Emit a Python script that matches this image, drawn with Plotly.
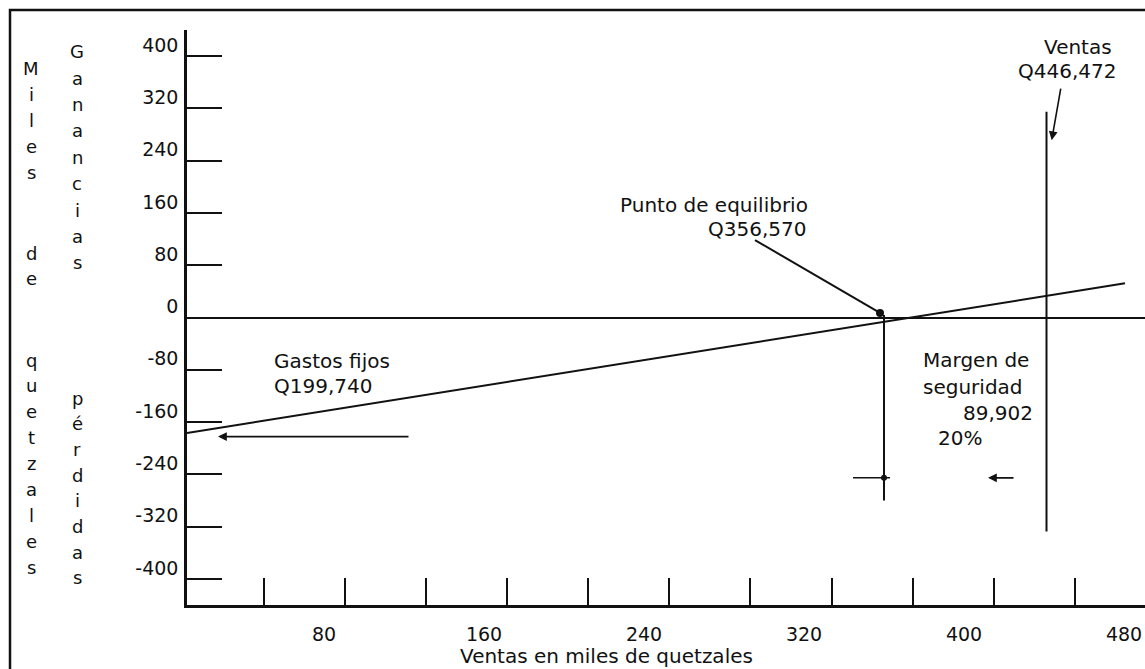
import plotly.graph_objects as go

# ---------------- data ----------------
x_range = [11.5, 490.5]
y_range = [-440, 440]
y_tick_vals = [400, 320, 240, 160, 80, 0, -80, -160, -240, -320, -400]
y_tick_text = ["400", "320", "240", "160", "80", "0", "-80", "-160", "-240", "-320", "-400"]
x_label_vals = [80, 160, 240, 320, 400, 480]
x_label_text = ["80", "160", "240", "320", "400", "480"]
x_tick_marks = [50, 90.5, 131, 171.5, 212, 252.5, 293, 334, 374.5, 415, 455.5]

profit_x = [11.5, 480.5]
profit_y = [-176.6, 52.3]

breakeven_x = [360, 360]
breakeven_y = [4, -280]
ventas_x = [441.25, 441.25]
ventas_y = [314.7, -327.5]

dot_x = [358]
dot_y = [7]
leader_x = [295.5, 358]
leader_y = [118.5, 7]

margin_bar_x = [344.5, 363]
margin_bar_y = [-245.4, -245.4]
margin_mark_x = [360]
margin_mark_y = [-245.4]

# arrows: (tail_x, tail_y, head_x, head_y)
arrows = [
    (123, -182.3, 27, -182.3),      # gastos fijos
    (425.5, -245.4, 412, -245.4),   # margen de seguridad
    (448.5, 352.5, 443.85, 271.4),  # ventas
]

# text labels: (text, x, y, xanchor)
labels = [
    ("Gastos fijos", 54, -66, "left"),
    ("Q199,740", 54, -104.7, "left"),
    ("Punto de equilibrio", 323, 172, "right"),
    ("Q356,570", 322, 135.3, "right"),
    ("Ventas", 475, 414, "right"),
    ("Q446,472", 477, 377.4, "right"),
    ("Margen de", 378.5, -65, "left"),
    ("seguridad", 378.5, -105.8, "left"),
    ("89,902", 435.5, -145.6, "right"),
    ("20%", 385.8, -184.3, "left"),
]

x_title = "Ventas en miles de quetzales"
left_words = [("Miles", 68, 26.2), ("de", 253, 25), ("quetzales", 360, 25.9)]
right_words = [("Ganancias", 51.7, 26.4), ("pérdidas", 398, 25.7)]

# ---------------- layout geometry (pixels) ----------------
W, H = 1145, 669
ML, MR, MT, MB = 187, 0, 30, 64
PW, PH = W - ML - MR, H - MT - MB


def px_x(px):
    return (px - ML) / PW


def px_y(py):
    return (H - MB - py) / PH


FONT = "DejaVu Sans"
INK = "#111111"

fig = go.Figure()

fig.add_trace(go.Scatter(x=profit_x, y=profit_y, mode="lines",
                         line=dict(color=INK, width=2), hoverinfo="skip"))
fig.add_trace(go.Scatter(x=breakeven_x, y=breakeven_y, mode="lines",
                         line=dict(color=INK, width=2), hoverinfo="skip"))
fig.add_trace(go.Scatter(x=ventas_x, y=ventas_y, mode="lines",
                         line=dict(color=INK, width=2), hoverinfo="skip"))
fig.add_trace(go.Scatter(x=leader_x, y=leader_y, mode="lines",
                         line=dict(color=INK, width=2), hoverinfo="skip"))
fig.add_trace(go.Scatter(x=dot_x, y=dot_y, mode="markers",
                         marker=dict(color=INK, size=8), hoverinfo="skip"))
fig.add_trace(go.Scatter(x=margin_bar_x, y=margin_bar_y, mode="lines",
                         line=dict(color=INK, width=1.5), hoverinfo="skip"))
fig.add_trace(go.Scatter(x=margin_mark_x, y=margin_mark_y, mode="markers",
                         marker=dict(color=INK, size=6), hoverinfo="skip"))
# invisible trace so the label axis is drawn
fig.add_trace(go.Scatter(x=x_range, y=[0, 0], xaxis="x2", mode="lines",
                         line=dict(width=0), opacity=0, hoverinfo="skip"))

for tx, ty, hx, hy in arrows:
    fig.add_annotation(x=hx, y=hy, ax=tx, ay=ty, xref="x", yref="y",
                       axref="x", ayref="y", text="", showarrow=True,
                       arrowhead=2, arrowsize=1.1, arrowwidth=1.6,
                       arrowcolor=INK, standoff=0, startstandoff=0)

for text, x, y, anc in labels:
    fig.add_annotation(x=x, y=y, xref="x", yref="y", text=text,
                       showarrow=False, xanchor=anc, yanchor="middle",
                       font=dict(family=FONT, size=20, color=INK))

fig.add_annotation(x=px_x(458), y=px_y(656), xref="paper", yref="paper",
                   text=x_title, showarrow=False, xanchor="left",
                   yanchor="middle", font=dict(family=FONT, size=20, color=INK))

for col_x, words in ((31, left_words), (77, right_words)):
    for word, y0, step in words:
        for i, ch in enumerate(word):
            fig.add_annotation(x=px_x(col_x), y=px_y(y0 + i * step),
                               xref="paper", yref="paper", text=ch,
                               showarrow=False, xanchor="center",
                               yanchor="middle",
                               font=dict(family=FONT, size=18, color=INK))

# outer frame of the scanned figure
fig.add_shape(type="rect", xref="paper", yref="paper",
              x0=px_x(10), y0=px_y(H + 20), x1=px_x(W + 20), y1=px_y(10),
              line=dict(color=INK, width=2.5), fillcolor="rgba(0,0,0,0)")

fig.update_layout(
    width=W, height=H,
    margin=dict(l=ML, r=MR, t=MT, b=MB, pad=0),
    paper_bgcolor="white", plot_bgcolor="white",
    showlegend=False,
    font=dict(family=FONT, color=INK),
    xaxis=dict(range=x_range, tickmode="array", tickvals=x_tick_marks,
               showticklabels=False, ticks="inside", ticklen=27,
               tickwidth=2, tickcolor=INK, showline=True, linecolor=INK,
               linewidth=2.5, showgrid=False, zeroline=False, fixedrange=True),
    xaxis2=dict(range=x_range, overlaying="x", side="bottom",
                tickmode="array", tickvals=x_label_vals, ticktext=x_label_text,
                ticks="", showline=False, showgrid=False, zeroline=False,
                ticklabelstandoff=16,
                tickfont=dict(family=FONT, size=19, color=INK), fixedrange=True),
    yaxis=dict(range=y_range, tickmode="array", tickvals=y_tick_vals,
               ticktext=y_tick_text, ticks="inside", ticklen=35, tickwidth=1.8,
               tickcolor=INK, showline=True, linecolor=INK, linewidth=2.5,
               showgrid=False, zeroline=True, zerolinecolor=INK,
               zerolinewidth=1.8, ticklabelshift=-11, ticklabelstandoff=2,
               tickfont=dict(family=FONT, size=19, color=INK), fixedrange=True),
)

fig.write_html("out.html",
               config={"displayModeBar": False},
               post_script="document.body.style.margin='0';"
                           "document.body.style.padding='0';")
